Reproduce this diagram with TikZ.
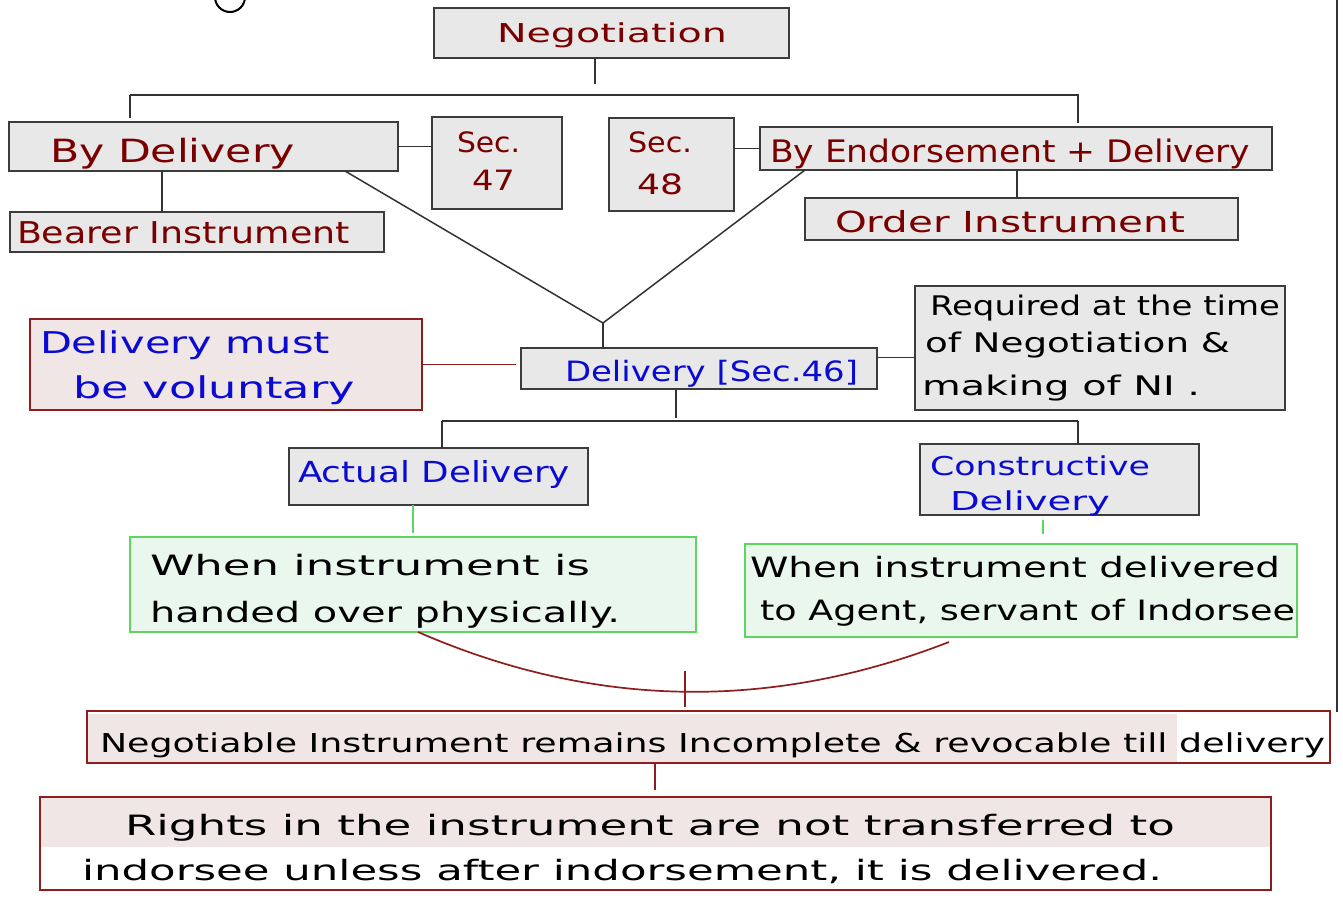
\documentclass[tikz,border=0pt]{standalone}
\usepackage{fontspec}
\setmainfont{DejaVu Sans}
\usetikzlibrary{calc}
\definecolor{boxfill}{HTML}{E8E8E8}
\definecolor{boxline}{HTML}{3C3C3C}
\definecolor{inkred}{HTML}{7A0000}
\definecolor{inkblue}{HTML}{0A0AD2}
\definecolor{pinkfill}{HTML}{F0E6E6}
\definecolor{pinkline}{HTML}{8E1E1E}
\definecolor{greenfill}{HTML}{EAF7EC}
\definecolor{greenline}{HTML}{5ED65E}
\definecolor{conn}{HTML}{333333}
\newcommand\hw[3]{\fontsize{#1}{#1}\selectfont\resizebox{#2pt}{\height}{#3}}
\begin{document}
\begin{tikzpicture}[x=1pt,y=-1pt,
  graybox/.style={draw=boxline, fill=boxfill, line width=1.6pt, inner sep=0pt, outer sep=0pt, anchor=north west},
  pinkbox/.style={draw=pinkline, fill=pinkfill, line width=1.6pt, inner sep=0pt, outer sep=0pt, anchor=north west},
  greenbox/.style={draw=greenline, fill=greenfill, line width=1.6pt, inner sep=0pt, outer sep=0pt, anchor=north west},
  lbl/.style={anchor=base west, inner sep=0pt, outer sep=0pt},
  redtext/.style={lbl, text=inkred},
  bluetext/.style={lbl, text=inkblue},
  blacktext/.style={lbl, text=black},
  link/.style={draw=conn, line width=1.5pt},
  redlink/.style={draw=pinkline, line width=1.7pt},
  greenlink/.style={draw=greenline, line width=1.4pt},
]
\useasboundingbox (0,0) rectangle (1343,915);
\fill[white] (0,0) rectangle (1343,915);

% page edge and partial circled mark
\draw[draw=conn, line width=1.3pt] (1337,0) -- (1337,712);
\draw[line width=2pt] (230,-3) circle (15pt);

% boxes
\node[graybox, minimum width=355pt, minimum height=50pt] (neg) at (434,8) {};
\node[graybox, minimum width=389pt, minimum height=49pt] (bydel) at (9,122) {};
\node[graybox, minimum width=130pt, minimum height=92pt] (sec47) at (432,117) {};
\node[graybox, minimum width=374pt, minimum height=40pt] (bearer) at (10,212) {};
\node[graybox, minimum width=125pt, minimum height=93pt] (sec48) at (609,118) {};
\node[graybox, minimum width=512pt, minimum height=43pt] (byend) at (760,127) {};
\node[graybox, minimum width=433pt, minimum height=42pt] (order) at (805,198) {};
\node[pinkbox, minimum width=392pt, minimum height=91pt] (must) at (30,319) {};
\node[graybox, minimum width=356pt, minimum height=41pt] (del46) at (521,348) {};
\node[graybox, minimum width=370pt, minimum height=124pt] (req) at (915,286) {};
\node[graybox, minimum width=299pt, minimum height=57pt] (actual) at (289,448) {};
\node[graybox, minimum width=279pt, minimum height=71pt] (constr) at (920,444) {};
\node[greenbox, minimum width=566pt, minimum height=95pt] (when1) at (130,537) {};
\node[greenbox, minimum width=552pt, minimum height=93pt] (when2) at (745,544) {};
\node[pinkbox, fill=white, minimum width=1243pt, minimum height=52pt,
  path picture={\fill[pinkfill] ([yshift=-3pt]path picture bounding box.north west) rectangle ([xshift=-153pt]path picture bounding box.south east);}] (negin) at (87,711) {};
\node[pinkbox, fill=white, minimum width=1231pt, minimum height=93pt,
  path picture={\fill[pinkfill] (path picture bounding box.north west) rectangle ([yshift=43pt]path picture bounding box.south east);}] (rights) at (40,797) {};

% texts
\node[redtext] (tneg) at (497,43) {\hw{26}{230}{Negotiation}};
\node[redtext] (tbydel) at (50,162) {\hw{32}{245}{By Delivery}};
\node[redtext] (tbearer) at (17,243) {\hw{30}{333}{Bearer Instrument}};
\node[redtext] (ts47a) at (457,153) {\hw{28}{63}{Sec.}};
\node[redtext] (ts47b) at (472,190) {\hw{28}{43}{47}};
\node[redtext] (ts48a) at (628,153) {\hw{28}{64}{Sec.}};
\node[redtext] (ts48b) at (637,194) {\hw{28}{46}{48}};
\node[redtext] (tbyend) at (770,162) {\hw{31}{480}{By Endorsement + Delivery}};
\node[redtext] (torder) at (835,232) {\hw{29}{350}{Order Instrument}};
\node[bluetext] (tmust1) at (40,353) {\hw{30}{290}{Delivery must}};
\node[bluetext] (tmust2) at (73,398) {\hw{30}{282}{be voluntary}};
\node[bluetext] (tdel46) at (565,381) {\hw{28}{293}{Delivery [Sec.46]}};
\node[blacktext] (treq1) at (930,315) {\hw{27}{350}{Required at the time}};
\node[blacktext] (treq2) at (925,352) {\hw{27}{305}{of Negotiation \&}};
\node[blacktext] (treq3) at (922,395) {\hw{27}{278}{making of NI .}};
\node[bluetext] (tactual) at (298,482) {\hw{29}{272}{Actual Delivery}};
\node[bluetext] (tcon1) at (930,475) {\hw{26}{220}{Constructive}};
\node[bluetext] (tcon2) at (950,510) {\hw{26}{160}{Delivery}};
\node[blacktext] (tw1a) at (150,575) {\hw{28}{440}{When instrument is}};
\node[blacktext] (tw1b) at (150,622) {\hw{28}{470}{handed over physically.}};
\node[blacktext] (tw2a) at (750,577) {\hw{28}{530}{When instrument delivered}};
\node[blacktext] (tw2b) at (760,620) {\hw{28}{535}{to Agent, servant of Indorsee}};
\node[blacktext] (tnegin) at (100,752) {\hw{26}{1225}{Negotiable Instrument remains Incomplete \& revocable till delivery}};
\node[blacktext] (tr1) at (125,835) {\hw{28}{1050}{Rights in the instrument are not transferred to}};
\node[blacktext] (tr2) at (82,880) {\hw{28}{1080}{indorsee unless after indorsement, it is delivered.}};

% junction coordinates
\coordinate (n1) at (595,84);
\coordinate (hl) at (130,95);
\coordinate (hr) at (1078,95);
\coordinate (c162) at (162,190);
\coordinate (c1017) at (1017,185);
\coordinate (apex) at (603,323);
\coordinate (dj) at (676,418);
\coordinate (dl) at (442,421);
\coordinate (dr) at (1078,421);
\coordinate (g1) at (413,533);
\coordinate (g2) at (1043,534);
\coordinate (vtop) at (685,671);
\coordinate (c655) at (655,780);

% connectors
\draw[link] (neg.south -| n1) -- (n1);
\draw[link, shorten >=4pt] (hl) -- (hr) -- (byend.north -| hr);
\draw[link, shorten >=4pt] (hl) -- (bydel.north -| hl);
\draw[link] (bydel.east) -- (bydel.east -| sec47.west);
\draw[link] (bydel.south -| c162) -- (bearer.north -| c162);
\draw[link] (byend.west) -- (byend.west -| sec48.east);
\draw[link] (byend.south -| c1017) -- (order.north -| c1017);
\draw[link] ([xshift=-53pt]bydel.south east) -- (apex);
\draw[link] ([xshift=45pt]byend.south west) -- (apex);
\draw[link] (apex) -- (del46.north -| apex);
\draw[redlink, shorten >=5pt] (must.east) -- (must.east -| del46.west);
\draw[link] ([yshift=11pt]del46.east) -- ([yshift=11pt]del46.east -| req.west);
\draw[link] (del46.south -| dj) -- (dj);
\draw[link] (dl) -- (dr);
\draw[link] (dl) -- (actual.north -| dl);
\draw[link] (dr) -- (constr.north -| dr);
\draw[greenlink] (actual.south -| g1) -- (g1);
\draw[greenlink, shorten <=5pt] (constr.south -| g2) -- (g2);
\coordinate (arcL) at ([xshift=288pt]when1.south west);
\coordinate (arcR) at ([xshift=204pt,yshift=-5pt]when2.south west);
\draw[redlink] (arcL) .. controls (597,710) and (774,710) .. (arcR);
\draw[redlink, shorten >=4pt] (vtop) -- (negin.north -| vtop);
\draw[redlink, shorten >=7pt] (negin.south -| c655) -- (rights.north -| c655);
\end{tikzpicture}
\end{document}
